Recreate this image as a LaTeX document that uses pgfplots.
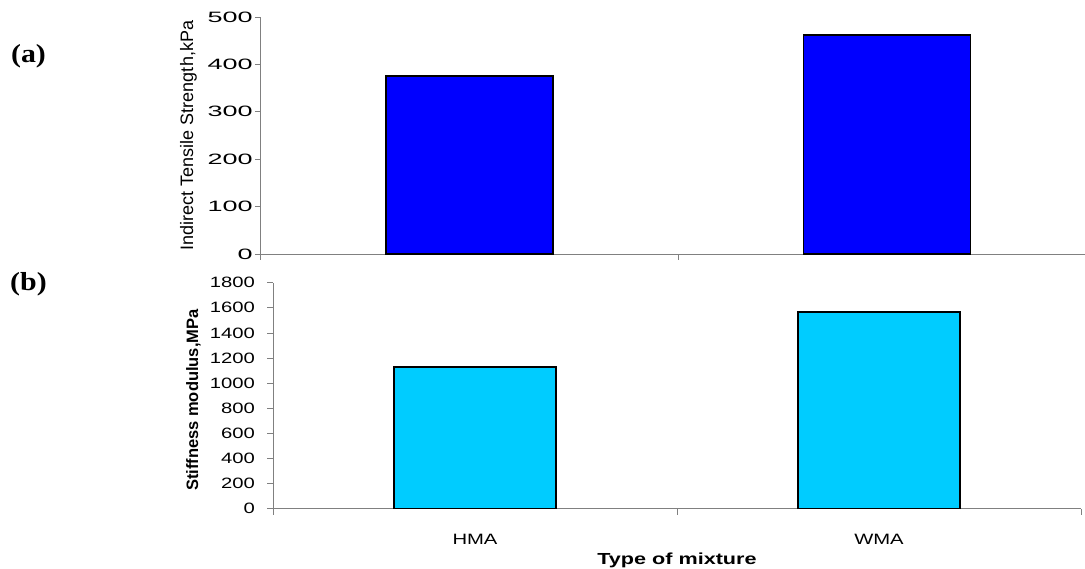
\documentclass[border=0pt]{standalone}
\usepackage{pgfplots}
\pgfplotsset{compat=1.18}
\usepackage{fontspec}
\setmainfont{Liberation Sans}
\newfontfamily\topfont[FakeStretch=1.8]{Liberation Sans}
\newfontfamily\botfont[FakeStretch=1.35]{Liberation Sans}
\newfontfamily\labfont{Liberation Sans}
\newfontfamily\serfont[FakeStretch=1.15]{Liberation Serif}
\definecolor{barA}{RGB}{0,0,255}
\definecolor{barB}{RGB}{0,204,255}
\definecolor{axgray}{RGB}{128,128,128}
\begin{document}
\begin{tikzpicture}
\useasboundingbox (0,0) rectangle (1085pt,568pt);
\pgfplotsset{
  common/.style={
    scale only axis,
    anchor=south west,
    xmin=0.5, xmax=2.5, ymin=0,
    axis x line=bottom, axis y line=left,
    axis line style={-, draw=axgray, line width=0.8pt},
    tick align=outside,
    major tick length=6pt, minor tick length=6pt,
    every tick/.style={draw=axgray, line width=0.8pt},
    xtick={1,2},
    minor xtick={0.5,1.5,2.5},
    major x tick style={draw=none},
    /pgf/number format/assume math mode=true,
    /pgf/number format/set thousands separator={},
    ybar, bar width=0.4,
    clip=false,
  }
}
% (a) Indirect tensile strength
\begin{axis}[common,
  at={(260.75pt,314pt)}, width=835pt, height=237pt,
  ymax=500, ytick={0,100,...,500},
  xticklabels={,},
  yticklabel style={font=\topfont\fontsize{15}{15}\selectfont, anchor=east, inner sep=0pt, xshift=-2pt},
  ylabel={Indirect Tensile Strength,kPa},
  ylabel style={at={([xshift=-72.25pt]axis description cs:0,0.5)}, anchor=center, inner sep=0pt, font=\labfont\fontsize{18}{18}\selectfont},
]
\addplot[fill=barA, draw=black, line width=1.5pt] coordinates {(1,376) (2,462)};
\end{axis}
% (b) Stiffness modulus
\begin{axis}[common,
  at={(273pt,59.3pt)}, width=808pt, height=226pt,
  ymax=1800, ytick={0,200,...,1800},
  xticklabels={HMA,WMA},
  xticklabel style={font=\botfont\fontsize{15}{15}\selectfont, anchor=north, inner sep=0pt, yshift=-19.5pt},
  yticklabel style={font=\botfont\fontsize{15}{15}\selectfont, anchor=east, inner sep=0pt, xshift=-12pt},
  ylabel={\bfseries Stiffness modulus,MPa},
  ylabel style={at={([xshift=-79.5pt]axis description cs:0,0.48)}, anchor=center, inner sep=0pt, font=\labfont\fontsize{16.5}{16.5}\selectfont},
  xlabel={\bfseries Type of mixture},
  xlabel style={at={([yshift=-56.3pt]axis description cs:0.5,0)}, anchor=base, inner sep=0pt, font=\botfont\fontsize{16}{16}\selectfont},
]
\addplot[fill=barB, draw=black, line width=1.5pt] coordinates {(1,1130) (2,1568)};
\end{axis}
\node[anchor=center, inner sep=0pt, font=\serfont\bfseries\fontsize{26}{26}\selectfont] at (28.5pt,511.5pt) {(a)};
\node[anchor=center, inner sep=0pt, font=\serfont\bfseries\fontsize{26}{26}\selectfont] at (28.5pt,284pt) {(b)};
\end{tikzpicture}
\end{document}
